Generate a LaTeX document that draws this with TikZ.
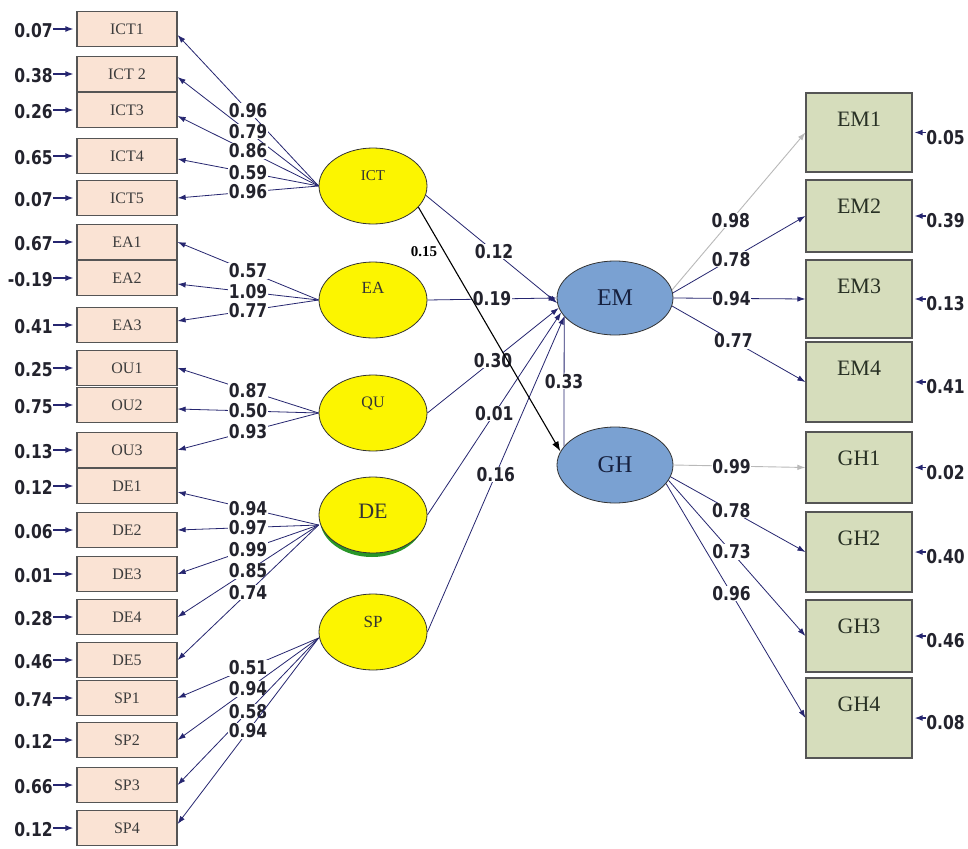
\documentclass[tikz,border=0pt]{standalone}
\usepackage{fontspec}
\setmainfont{Liberation Serif}
\newfontfamily\numfont{DejaVu Sans}[FakeStretch=0.82]
\usetikzlibrary{arrows.meta,shapes.geometric}
\definecolor{peach}{RGB}{250,227,212}
\definecolor{khaki}{RGB}{214,221,188}
\definecolor{latyellow}{RGB}{252,245,0}
\definecolor{endoblue}{RGB}{122,161,210}
\definecolor{bord}{RGB}{85,85,85}
\definecolor{navyline}{RGB}{38,38,112}
\definecolor{grayline}{RGB}{185,185,185}
\definecolor{boxtxt}{RGB}{60,60,60}
\definecolor{rtxt}{RGB}{40,48,36}
\definecolor{numtxt}{RGB}{35,35,45}
\definecolor{endotxt}{RGB}{22,32,62}
\definecolor{shadowgreen}{RGB}{40,150,40}
\newcommand\numf{\numfont\bfseries\fontsize{19}{19}\selectfont}
\begin{document}
\begin{tikzpicture}[x=1pt,y=-1pt,
  lbox/.style={rectangle, draw=bord, line width=1.2pt, fill=peach, minimum width=100pt, minimum height=35pt, inner sep=0pt, text=boxtxt, font=\fontsize{16}{16}\selectfont},
  rbox/.style={rectangle, draw=bord, line width=1.2pt, fill=khaki, minimum width=106pt, inner sep=0pt},
  rlab/.style={anchor=base, yshift=-34pt, text=rtxt, font=\fontsize{22}{22}\selectfont},
  lat/.style={ellipse, draw=black!80, line width=0.8pt, fill=latyellow, minimum width=108pt, minimum height=76pt, inner sep=0pt},
  latlab/.style={anchor=center, yshift=10pt, text=black!80},
  endo/.style={ellipse, draw=black!80, line width=0.8pt, fill=endoblue, minimum width=116pt, minimum height=74pt, inner sep=0pt, text=endotxt, font=\fontsize{24}{24}\selectfont},
  num/.style={font=\numf, text=numtxt, inner sep=0.5pt},
  lnum/.style={num, fill=white},
  load/.style={draw=navyline, line width=0.8pt, -{Latex[length=8pt,width=5.5pt]}},
  gload/.style={draw=grayline, line width=0.9pt, -{Latex[length=8pt,width=5.5pt]}},
  err/.style={draw=navyline, line width=1.3pt, -{Latex[length=8pt,width=6pt]}},
]
\fill[white] (0,0) rectangle (968,848);
\useasboundingbox (0,0) rectangle (968,848);

% ---------- left indicators ----------
\node[lbox] (ICT1) at (127,29) {ICT1};
\node[lbox] (ICT2) at (127,74) {ICT 2};
\node[lbox] (ICT3) at (127,110) {ICT3};
\node[lbox] (ICT4) at (127,156) {ICT4};
\node[lbox] (ICT5) at (127,198) {ICT5};
\node[lbox] (EA1) at (127,242) {EA1};
\node[lbox] (EA2) at (127,278) {EA2};
\node[lbox] (EA3) at (127,325) {EA3};
\node[lbox] (OU1) at (127,368) {OU1};
\node[lbox] (OU2) at (127,405) {OU2};
\node[lbox] (OU3) at (127,450) {OU3};
\node[lbox] (DE1) at (127,486) {DE1};
\node[lbox] (DE2) at (127,530) {DE2};
\node[lbox] (DE3) at (127,574) {DE3};
\node[lbox] (DE4) at (127,617) {DE4};
\node[lbox] (DE5) at (127,660) {DE5};
\node[lbox] (SP1) at (127,698) {SP1};
\node[lbox] (SP2) at (127,740) {SP2};
\node[lbox] (SP3) at (127,785) {SP3};
\node[lbox] (SP4) at (127,828) {SP4};

% ---------- left error terms ----------
\foreach \n/\v in {ICT1/0.07, ICT2/0.38, ICT3/0.26, ICT4/0.65, ICT5/0.07, EA1/0.67, EA2/-0.19, EA3/0.41, OU1/0.25, OU2/0.75, OU3/0.13, DE1/0.12, DE2/0.06, DE3/0.01, DE4/0.28, DE5/0.46, SP1/0.74, SP2/0.12, SP3/0.66, SP4/0.12}{
  \node[num, anchor=east] (e\n) at ([xshift=-23pt,yshift=-2pt]\n.west) {\v};
  \draw[err] (e\n.east |- \n.west) -- ([xshift=-3pt]\n.west);
}

% ---------- right indicators ----------
\node[rbox, minimum height=79pt, label={[rlab]north:EM1}] (EM1) at (859,132.5) {};
\node[rbox, minimum height=72pt, label={[rlab]north:EM2}] (EM2) at (859,216) {};
\node[rbox, minimum height=78pt, label={[rlab]north:EM3}] (EM3) at (859,299) {};
\node[rbox, minimum height=80pt, label={[rlab]north:EM4}] (EM4) at (859,382) {};
\node[rbox, minimum height=71pt, label={[rlab]north:GH1}] (GH1) at (859,467.5) {};
\node[rbox, minimum height=80pt, label={[rlab]north:GH2}] (GH2) at (859,552) {};
\node[rbox, minimum height=72pt, label={[rlab]north:GH3}] (GH3) at (859,636) {};
\node[rbox, minimum height=80pt, label={[rlab]north:GH4}] (GH4) at (859,718) {};

\foreach \n/\v in {EM1/0.05, EM2/0.39, EM3/0.13, EM4/0.41, GH1/0.02, GH2/0.40, GH3/0.46, GH4/0.08}{
  \node[num, anchor=west] (e\n) at ([xshift=13pt,yshift=-5pt]\n.east) {\v};
  \draw[err] (e\n.west |- \n.east) -- ([xshift=2pt]\n.east);
}

% ---------- latent variables ----------
\node[lat] (ICT) at (373,186) {};
\node[lat] (EA) at (373,300) {};
\node[lat] (QU) at (373,413) {};
\node[ellipse, fill=shadowgreen, minimum width=104pt, minimum height=76pt, inner sep=0pt] (DEsh) at (372,519) {};
\node[lat] (DE) at (373,515) {};
\node[lat] (SP) at (373,632) {};
\node[latlab, font=\fontsize{15}{15}\selectfont] (tICT) at (ICT.center) {ICT};
\node[latlab, font=\fontsize{17}{17}\selectfont, yshift=2pt] (tEA) at (EA.center) {EA};
\node[latlab, font=\fontsize{16}{16}\selectfont] (tQU) at (QU.center) {QU};
\node[latlab, font=\fontsize{22}{22}\selectfont, yshift=-6pt] (tDE) at (DE.center) {DE};
\node[latlab, font=\fontsize{17}{17}\selectfont] (tSP) at (SP.center) {SP};

\node[endo] (EM) at (615,298) {EM};
\node[endo, minimum height=76pt] (GH) at (615,465) {GH};

% ---------- measurement loadings (left) ----------
\draw[load] (ICT.west) -- node[lnum]{0.96} ([yshift=-6pt]ICT1.east);
\draw[load] (ICT.west) -- node[lnum]{0.79} ([yshift=-3pt]ICT2.east);
\draw[load] (ICT.west) -- node[lnum]{0.86} ([yshift=-6pt]ICT3.east);
\draw[load] (ICT.west) -- node[lnum]{0.59} ([yshift=-3pt]ICT4.east);
\draw[load] (ICT.west) -- node[lnum]{0.96} (ICT5.east);

\draw[load] (EA.west) -- node[lnum]{0.57} (EA1.east);
\draw[load] (EA.west) -- node[lnum]{1.09} ([yshift=-6pt]EA2.east);
\draw[load] (EA.west) -- node[lnum]{0.77} ([yshift=4pt]EA3.east);

\draw[load] (QU.west) -- node[lnum]{0.87} (OU1.east);
\draw[load] (QU.west) -- node[lnum]{0.50} ([yshift=-4pt]OU2.east);
\draw[load] (QU.west) -- node[lnum]{0.93} (OU3.east);

\draw[load] ([yshift=-10pt]DE.west) -- node[lnum]{0.94} ([yshift=-6pt]DE1.east);
\draw[load] ([yshift=-10pt]DE.west) -- node[lnum]{0.97} (DE2.east);
\draw[load] ([yshift=-10pt]DE.west) -- node[lnum]{0.99} (DE3.east);
\draw[load] ([yshift=-10pt]DE.west) -- node[lnum]{0.85} (DE4.east);
\draw[load] ([yshift=-10pt]DE.west) -- node[lnum]{0.74} (DE5.east);

\draw[load] ([yshift=-6pt]SP.west) -- node[lnum]{0.51} (SP1.east);
\draw[load] ([yshift=-6pt]SP.west) -- node[lnum]{0.94} (SP2.east);
\draw[load] ([yshift=-6pt]SP.west) -- node[lnum]{0.58} (SP3.east);
\draw[load] ([yshift=-6pt]SP.west) -- node[lnum]{0.94} ([yshift=4pt]SP4.east);

% ---------- measurement loadings (right) ----------
\draw[gload] (EM.8) -- node[lnum, pos=0.44]{0.98} (EM1.west);
\draw[load] (EM.5) -- node[lnum, pos=0.44]{0.78} (EM2.west);
\draw[load] (EM.east) -- node[lnum, pos=0.44]{0.94} (EM3.west);
\draw[load] (EM.-8) -- node[lnum, pos=0.46]{0.77} (EM4.west);

\draw[gload] (GH.east) -- node[lnum, pos=0.44]{0.99} (GH1.west);
\draw[load] (GH.-12) -- node[lnum, pos=0.45]{0.78} (GH2.west);
\draw[load] (GH.-16) -- node[lnum, pos=0.46]{0.73} (GH3.west);
\draw[load] (GH.-20) -- node[lnum, pos=0.47]{0.96} (GH4.west);

% ---------- structural paths ----------
\draw[load] (ICT.-10) -- node[lnum, pos=0.52]{0.12} (EM.185);
\draw[load] (EA.east) -- node[lnum]{0.19} (EM.west);
\draw[load] (QU.east) -- node[lnum]{0.30} (EM.190);
\draw[load] (DE.east) -- node[lnum]{0.01} (EM.195);
\draw[load] (SP.east) -- node[lnum]{0.16} (EM.200);
\draw[draw=navyline, line width=0.8pt] (EM.200) -- node[lnum]{0.33} (GH.160);
\draw[line width=1.1pt, -{Latex[length=10pt,width=7pt]}] (ICT.-25) -- node[pos=0.18, left=3pt, font=\bfseries\fontsize{15}{15}\selectfont]{0.15} (GH.166);
\end{tikzpicture}
\end{document}
